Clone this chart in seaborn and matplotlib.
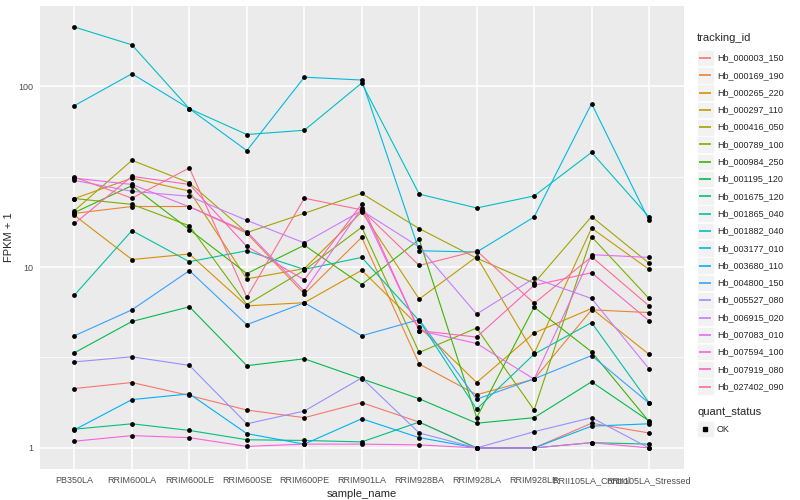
import numpy as np
import pandas as pd
import matplotlib
matplotlib.use("Agg")
import matplotlib.pyplot as plt
import seaborn as sns
from matplotlib.lines import Line2D
from matplotlib.patches import Rectangle
from matplotlib.ticker import FixedLocator, NullFormatter, NullLocator

# ---- data (FPKM + 1) ----
samples = ["PB350LA", "RRIM600LA", "RRIM600LE", "RRIM600SE", "RRIM600PE",
           "RRIM901LA", "RRIM928BA", "RRIM928LA", "RRIM928LE",
           "RRII105LA_Control", "RRII105LA_Stressed"]

tracking_ids = ["Hb_000003_150", "Hb_000169_190", "Hb_000265_220", "Hb_000297_110",
                "Hb_000416_050", "Hb_000789_100", "Hb_000984_250", "Hb_001195_120",
                "Hb_001675_120", "Hb_001865_040", "Hb_001882_040", "Hb_003177_010",
                "Hb_003680_110", "Hb_004800_150", "Hb_005527_080", "Hb_006915_020",
                "Hb_007083_010", "Hb_007594_100", "Hb_007919_080", "Hb_027402_090"]

hb_000003_150 = [2.13, 2.30, 1.95, 1.62, 1.47, 1.78, 1.39, 1.0, 1.0, 1.37, 1.21]
hb_000169_190 = [19.8, 21.6, 21.6, 15.4, 7.1, 14.6, 2.91, 1.97, 2.4, 5.8, 5.6]
hb_000265_220 = [19.3, 11.0, 11.8, 6.1, 6.35, 9.6, 4.68, 2.3, 4.32, 5.9, 3.29]
hb_000297_110 = [23.9, 31.0, 26.3, 8.6, 9.8, 20.2, 6.65, 11.4, 3.33, 16.4, 9.7]
hb_000416_050 = [20.5, 38.9, 29.2, 15.5, 19.8, 25.5, 16.3, 11.2, 8.14, 19.0, 10.5]
hb_000789_100 = [23.9, 22.2, 16.9, 6.2, 9.6, 16.6, 3.37, 4.6, 1.62, 14.7, 6.7]
hb_000984_250 = [20.0, 28.2, 16.1, 9.2, 13.2, 8.0, 14.2, 1.47, 6.0, 3.4, 1.4]
hb_001195_120 = [3.36, 5.0, 6.03, 2.85, 3.11, 2.41, 1.87, 1.37, 1.47, 2.32, 1.41]
hb_001675_120 = [1.27, 1.36, 1.25, 1.11, 1.10, 1.08, 1.39, 1.0, 1.0, 1.07, 1.05]
hb_001865_040 = [7.0, 15.9, 10.7, 12.3, 9.7, 11.3, 5.05, 1.64, 3.3, 4.93, 1.78]
hb_001882_040 = [212, 169, 75, 54, 57, 104, 25.3, 21.2, 24.7, 43, 18.9]
hb_003177_010 = [78, 117, 75, 44, 112, 108, 12.3, 12.1, 18.9, 80, 18.1]
hb_003680_110 = [1.26, 1.85, 1.99, 1.2, 1.05, 1.45, 1.14, 1.0, 1.0, 1.32, 1.36]
hb_004800_150 = [4.17, 5.8, 9.55, 4.8, 6.35, 4.17, 5.12, 1.86, 2.41, 3.24, 1.77]
hb_005527_080 = [2.99, 3.19, 2.86, 1.36, 1.6, 2.44, 1.21, 1.0, 1.23, 1.47, 1.0]
hb_006915_020 = [30.1, 26.2, 24.6, 18.1, 13.6, 20.5, 12.9, 5.5, 8.67, 6.7, 2.74]
hb_007083_010 = [31.0, 28.6, 21.5, 15.7, 7.35, 21.2, 4.45, 3.78, 2.4, 11.7, 11.3]
hb_007594_100 = [1.09, 1.17, 1.14, 1.02, 1.05, 1.05, 1.04, 1.0, 1.0, 1.07, 1.0]
hb_007919_080 = [17.4, 31.7, 28.6, 13.0, 8.5, 22.3, 4.45, 4.1, 7.92, 9.3, 5.05]
hb_027402_090 = [31.4, 24.0, 35.3, 6.8, 24.0, 20.7, 10.2, 12.3, 6.3, 11.4, 6.1]

series = [hb_000003_150, hb_000169_190, hb_000265_220, hb_000297_110, hb_000416_050,
          hb_000789_100, hb_000984_250, hb_001195_120, hb_001675_120, hb_001865_040,
          hb_001882_040, hb_003177_010, hb_003680_110, hb_004800_150, hb_005527_080,
          hb_006915_020, hb_007083_010, hb_007594_100, hb_007919_080, hb_027402_090]

# ggplot2 default hue palette for 20 levels
colors = ["#F8766D", "#EA8331", "#D89000", "#C09B00", "#A3A500", "#7CAE00", "#39B600",
          "#00BB4E", "#00BF7D", "#00C1A3", "#00BFC4", "#00BAE0", "#00B0F6", "#35A2FF",
          "#9590FF", "#C77CFF", "#E76BF3", "#FA62DB", "#FF62BC", "#FF6C91"]

rows = []
for tid, vals in zip(tracking_ids, series):
    for i, (s, v) in enumerate(zip(samples, vals)):
        rows.append({"tracking_id": tid, "sample_name": s, "pos": i,
                     "fpkm1": v, "quant_status": "OK"})
df = pd.DataFrame(rows)

# ---- style ----
sns.set_theme(style="white")
plt.rcParams["font.family"] = ["Liberation Sans", "DejaVu Sans"]

W, H = 800, 500
fig = plt.figure(figsize=(W / 100, H / 100), dpi=100)
ax = fig.add_axes([40 / W, 31 / H, 643.5 / W, 463 / H])
ax.set_facecolor("#EBEBEB")
ax.set_yscale("log")

sns.lineplot(data=df, x="pos", y="fpkm1", hue="tracking_id", hue_order=tracking_ids,
             palette=colors, sort=False, estimator=None, legend=False,
             linewidth=0.8, ax=ax)
sns.scatterplot(data=df, x="pos", y="fpkm1", color="black", marker="o", s=12,
                linewidth=0, legend=False, ax=ax, zorder=3)

# limits like ggplot's expansion
lo, hi = np.log10(df["fpkm1"].min()), np.log10(df["fpkm1"].max())
pad = 0.05 * (hi - lo)
ax.set_ylim(10 ** (lo - pad), 10 ** (hi + pad))
ax.set_xlim(-0.6, len(samples) - 0.4)

ax.set_xticks(range(len(samples)))
ax.set_xticklabels(samples, fontsize=6.5, color="#4D4D4D")
ax.set_yticks([1, 10, 100])
ax.set_yticklabels(["1", "10", "100"], fontsize=6.5, color="#4D4D4D")
ax.yaxis.set_minor_locator(FixedLocator([10 ** 0.5, 10 ** 1.5]))
ax.yaxis.set_minor_formatter(NullFormatter())
ax.xaxis.set_minor_locator(NullLocator())
ax.tick_params(which="major", length=3, width=0.8, color="#333333", pad=2)
ax.tick_params(which="minor", length=0)

ax.set_axisbelow(True)
ax.grid(which="major", color="white", linewidth=1.1)
ax.grid(which="minor", axis="y", color="white", linewidth=0.55)
for sp in ax.spines.values():
    sp.set_visible(False)

ax.set_xlabel("sample_name", fontsize=8, labelpad=3)
ax.set_ylabel("FPKM + 1", fontsize=8, labelpad=3)


# ---- legends (drawn by hand, ggplot look) ----
def fx(x):
    return x / W


def fy(y):
    return 1 - y / H


fig.text(fx(697), fy(38), "tracking_id", fontsize=8, va="center", ha="left")
step = 17.3
for i, (tid, c) in enumerate(zip(tracking_ids, colors)):
    yc = 58 + i * step
    fig.add_artist(Rectangle((fx(697), fy(yc + 8.3)), 16.6 / W, 16.6 / H,
                             transform=fig.transFigure, facecolor="#F2F2F2",
                             edgecolor="white", linewidth=0.5))
    fig.add_artist(Line2D([fx(699), fx(711)], [fy(yc), fy(yc)], color=c,
                          linewidth=1.2, solid_capstyle="butt",
                          transform=fig.transFigure))
    fig.text(fx(717), fy(yc), tid, fontsize=6.5, va="center", ha="left")

fig.text(fx(697), fy(412), "quant_status", fontsize=8, va="center", ha="left")
fig.add_artist(Rectangle((fx(697), fy(429 + 8.3)), 16.6 / W, 16.6 / H,
                         transform=fig.transFigure, facecolor="#F2F2F2",
                         edgecolor="white", linewidth=0.5))
fig.add_artist(Line2D([fx(705)], [fy(429)], marker="s", markersize=2.8, color="black",
                      linestyle="none", transform=fig.transFigure))
fig.text(fx(717), fy(429), "OK", fontsize=6.5, va="center", ha="left")

fig.savefig("out.png", dpi=100)
